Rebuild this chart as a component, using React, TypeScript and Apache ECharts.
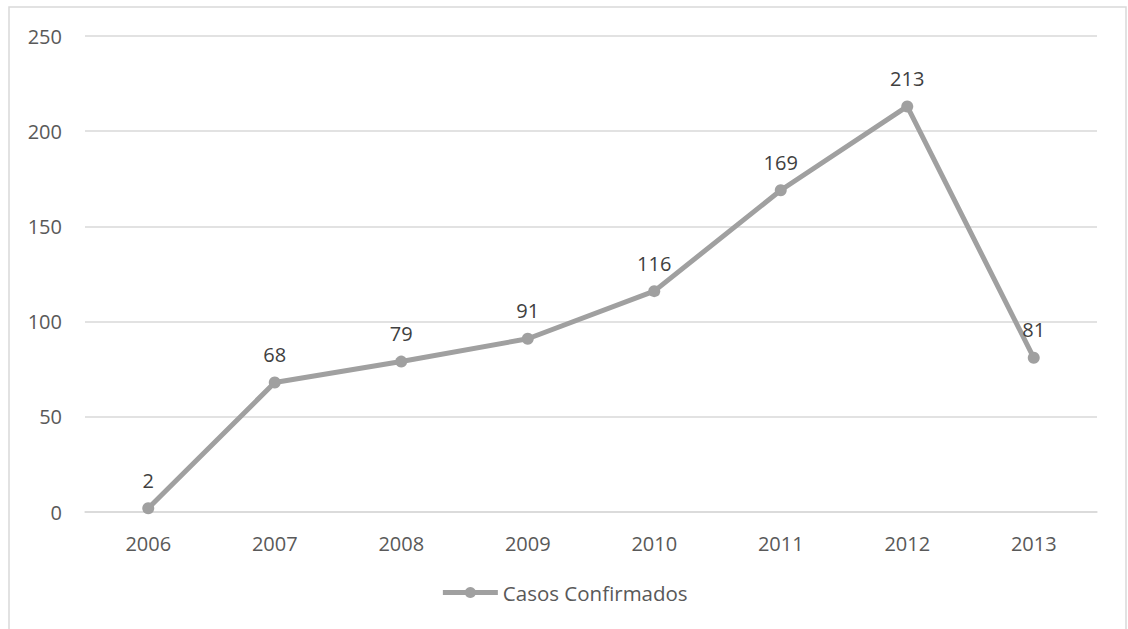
import React, { useEffect, useRef } from "react";
import * as echarts from "echarts";

const years = ["2006", "2007", "2008", "2009", "2010", "2011", "2012", "2013"];
const casos = [2, 68, 79, 91, 116, 169, 213, 81];
const seriesName = "Casos Confirmados";

export default function App() {
  const ref = useRef<HTMLDivElement>(null);
  useEffect(() => {
    if (!ref.current) return;
    const chart = echarts.init(ref.current, null, { renderer: "svg" });
    const font = "'Open Sans', sans-serif";
    chart.setOption({
      animation: false,
      backgroundColor: "#ffffff",
      textStyle: { fontFamily: font },
      graphic: [
        {
          type: "rect",
          shape: { x: 9, y: 7, width: 1117, height: 640 },
          style: { fill: "none", stroke: "#d9d9d9", lineWidth: 1.5 },
          silent: true,
        },
      ],
      grid: { left: 85, right: 31, top: 36, bottom: 117, containLabel: false },
      xAxis: {
        type: "category",
        data: years,
        boundaryGap: true,
        axisLine: { show: true, lineStyle: { color: "#d9d9d9", width: 1.5 } },
        axisTick: { show: false },
        axisLabel: { color: "#595959", fontSize: 20, margin: 21, fontFamily: font },
      },
      yAxis: {
        type: "value",
        min: 0,
        max: 250,
        interval: 50,
        axisLine: { show: false },
        axisTick: { show: false },
        splitLine: { lineStyle: { color: "#d9d9d9", width: 1.5 } },
        axisLabel: { color: "#595959", fontSize: 20, margin: 23, fontFamily: font },
      },
      legend: {
        show: true,
        bottom: 21,
        left: "center",
        itemWidth: 55,
        itemHeight: 14,
        itemGap: 10,
        lineStyle: { width: 5 },
        textStyle: { color: "#595959", fontSize: 20.5, fontFamily: font, padding: [0, 0, 0, 0] },
        data: [seriesName],
      },
      series: [
        {
          name: seriesName,
          type: "line",
          data: casos,
          symbol: "circle",
          symbolSize: 12,
          lineStyle: { color: "#a0a0a0", width: 5 },
          itemStyle: { color: "#a0a0a0" },
          label: {
            show: true,
            position: "top",
            distance: 12,
            color: "#404040",
            fontSize: 20,
            fontFamily: font,
          },
        },
      ],
    });
    return () => chart.dispose();
  }, []);
  return (
    <div
      ref={ref}
      style={{ position: "fixed", left: 0, top: 0, width: 1128, height: 629 }}
    />
  );
}
